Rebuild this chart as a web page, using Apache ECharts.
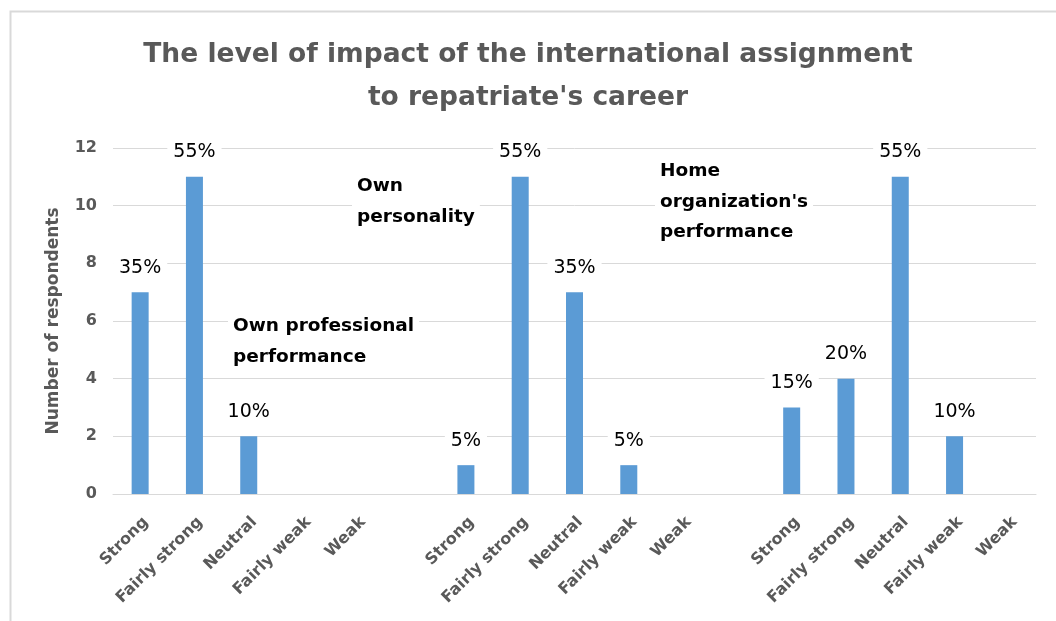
<!DOCTYPE html>
<html>
<head>
<meta charset="utf-8">
<script src="https://cdn.jsdelivr.net/npm/echarts@6/dist/echarts.min.js"></script>
<style>
html,body{margin:0;padding:0;background:#fff;}
#chart{width:1056px;height:621px;}
</style>
</head>
<body>
<div id="chart"></div>
<script>
// Categories: three groups of five ratings, separated by a blank slot
const levels = ['Strong', 'Fairly strong', 'Neutral', 'Fairly weak', 'Weak'];
const groupNames = ['Own professional\nperformance', 'Own\npersonality', 'Home\norganization\'s\nperformance'];
const ownProfessional = [7, 11, 2, 0, 0];
const ownPersonality = [1, 11, 7, 1, 0];
const homeOrganization = [3, 4, 11, 2, 0];
const totalRespondents = 20;
const yTicks = [0, 2, 4, 6, 8, 10, 12];

const categories = [].concat(levels, [''], levels, [''], levels);
const values = [].concat(ownProfessional, [null], ownPersonality, [null], homeOrganization);

const chart = echarts.init(document.getElementById('chart'));
const FONT = 'DejaVu Sans';
const groupFont = 'bold 18.5px "DejaVu Sans"';
chart.setOption({
  animation: false,
  backgroundColor: '#fff',
  textStyle: { fontFamily: FONT },
  title: {
    text: 'The level of impact of the international assignment\nto repatriate\'s career',
    left: 'center',
    top: 29,
    textStyle: { fontFamily: FONT, fontSize: 26.5, fontWeight: 'bold', color: '#595959', lineHeight: 43 }
  },
  grid: { left: 113, right: 20, top: 148, bottom: 127 },
  xAxis: {
    type: 'category',
    data: categories,
    axisLine: { lineStyle: { color: '#d9d9d9', width: 1 } },
    axisTick: { show: false },
    axisLabel: { interval: 0, rotate: 45, verticalAlign: 'top', color: '#595959', fontSize: 16, fontWeight: 'bold', margin: 20 }
  },
  yAxis: {
    type: 'value',
    min: yTicks[0],
    max: yTicks[yTicks.length - 1],
    interval: 2,
    name: 'Number of respondents',
    nameLocation: 'middle',
    nameGap: 51,
    nameTextStyle: { fontSize: 17, fontWeight: 'bold', color: '#595959' },
    axisLine: { show: false },
    axisTick: { show: false },
    axisLabel: { color: '#595959', fontSize: 16, fontWeight: 'bold', margin: 16 },
    splitLine: { lineStyle: { color: '#d9d9d9', width: 1 } }
  },
  series: [{
    type: 'bar',
    data: values,
    barWidth: 17,
    itemStyle: { color: '#5b9bd5' },
    label: {
      show: true,
      position: 'top',
      distance: 15,
      fontSize: 19,
      color: '#000',
      backgroundColor: '#fff',
      padding: [0, 6],
      formatter: p => (p.value ? Math.round(p.value / totalRespondents * 100) + '%' : '')
    }
  }],
  graphic: [
    { type: 'rect', left: 8, top: 9, shape: { width: 1200, height: 800 }, style: { fill: 'none', stroke: '#d9d9d9', lineWidth: 2 }, z: 0 },
    { type: 'text', left: 228, top: 311, style: { text: groupNames[0], font: groupFont, fill: '#000', lineHeight: 31, backgroundColor: '#fff', padding: [0, 5] }, z: 10 },
    { type: 'text', left: 352, top: 171, style: { text: groupNames[1], font: groupFont, fill: '#000', lineHeight: 31, backgroundColor: '#fff', padding: [0, 5] }, z: 10 },
    { type: 'text', left: 655, top: 156, style: { text: groupNames[2], font: groupFont, fill: '#000', lineHeight: 30.5, backgroundColor: '#fff', padding: [0, 5] }, z: 10 }
  ]
});
</script>
</body>
</html>
